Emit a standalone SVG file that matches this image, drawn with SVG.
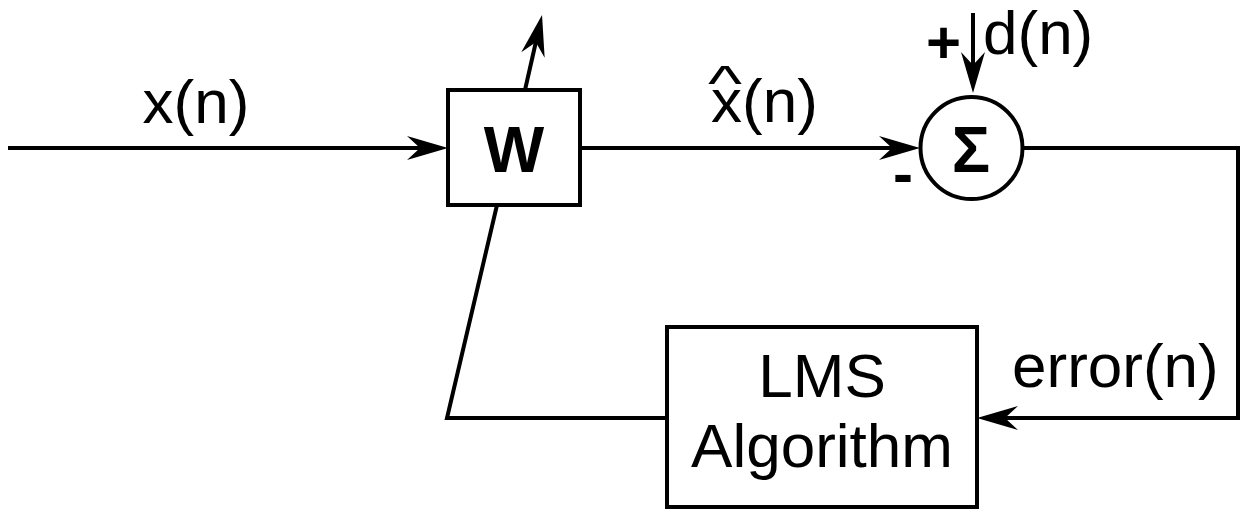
<svg xmlns="http://www.w3.org/2000/svg" width="1246" height="513" viewBox="0 0 1246 513">
<style>
.ln{fill:none;stroke:#000;stroke-width:4}
.bx{fill:#fff;stroke:#000;stroke-width:4}
.t{font-family:"Liberation Sans",Arial,sans-serif;font-size:62px;fill:#000}
.b{font-weight:bold;font-size:64px}
.s{font-weight:bold;font-size:60px}
.h{font-size:50px}
</style>
<defs>
<marker id="ah" markerUnits="userSpaceOnUse" markerWidth="60" markerHeight="40" refX="0" refY="0" viewBox="-30 -20 60 40" orient="auto" overflow="visible">
<path d="M20,0 L-21,-12 L-8,0 L-21,12 Z" fill="#000"/>
</marker>
</defs>
<g id="connectors">
<path class="ln" d="M8,148 H428" marker-end="url(#ah)"/>
<path class="ln" d="M525,90 L537.6,34.5" marker-end="url(#ah)"/>
<path class="ln" d="M580,148 H900" marker-end="url(#ah)"/>
<path class="ln" d="M973,13 V73" marker-end="url(#ah)"/>
<path class="ln" d="M1023,148 H1238 V418 H997" marker-end="url(#ah)"/>
<path class="ln" d="M667,418 H447 L497,205"/>
</g>
<g id="w">
<rect class="bx" x="448" y="90" width="132" height="115"/>
<text class="t b" x="514" y="172" text-anchor="middle">W</text>
</g>
<g id="sum">
<circle class="bx" cx="971.5" cy="148" r="51"/>
<text class="t b" x="971" y="172" text-anchor="middle">Σ</text>
</g>
<g id="lms">
<rect class="bx" x="667" y="327" width="310" height="180"/>
<text class="t" x="822" y="397" text-anchor="middle">LMS</text>
<text class="t" x="822" y="467" text-anchor="middle">Algorithm</text>
</g>
<g id="labels">
<text class="t" x="196" y="123" text-anchor="middle">x(n)</text>
<text class="t h" transform="translate(725,101) scale(1.45,1)" x="0" y="0" text-anchor="middle">^</text>
<text class="t" x="711" y="122">x(n)</text>
<text class="t" x="983" y="54">d(n)</text>
<text class="t s" x="926" y="63">+</text>
<text class="t s" x="893" y="194">-</text>
<text class="t" x="1012" y="387">error(n)</text>
</g>
</svg>
